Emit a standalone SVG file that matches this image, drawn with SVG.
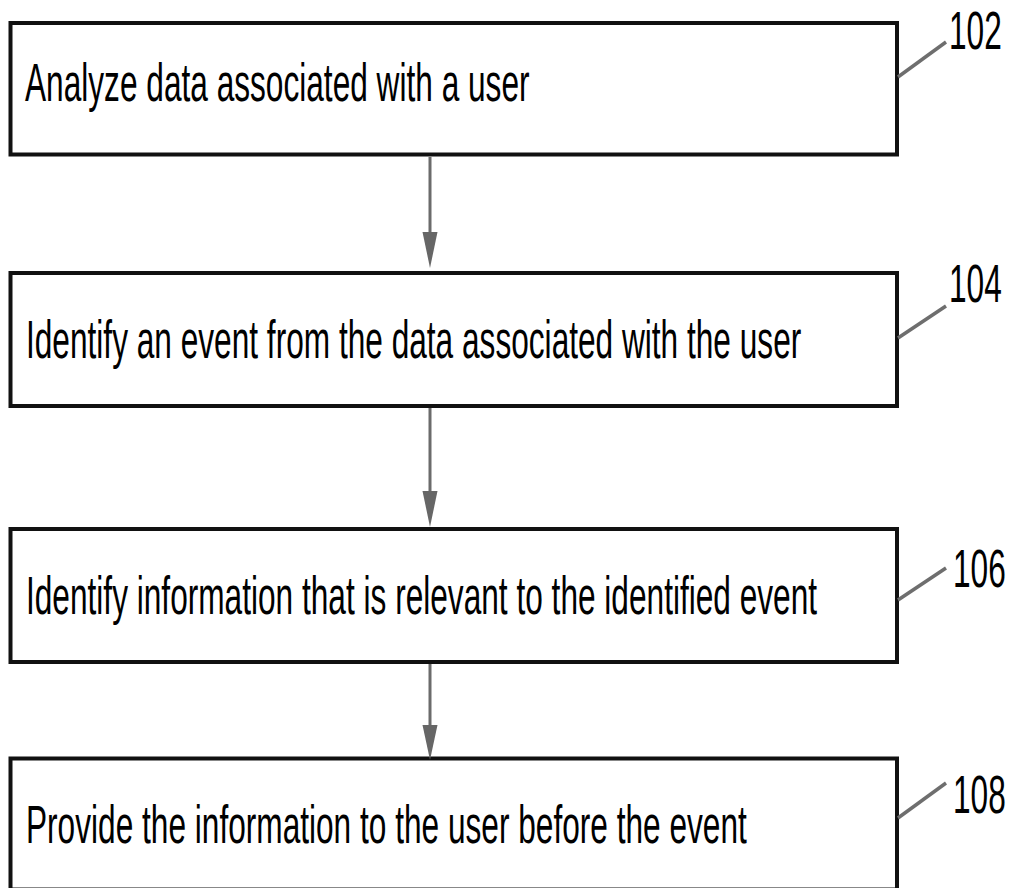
<svg xmlns="http://www.w3.org/2000/svg" width="1018" height="888" viewBox="0 0 1018 888">
<defs>
<style>
.box{fill:#fff;stroke:#111;stroke-width:4}
.t{font-family:"Liberation Sans",Arial,sans-serif;font-size:53px;fill:#000}
.lead{stroke:#6e6e6e;stroke-width:3.5;fill:none}
.conn{stroke:#6b6b6b;stroke-width:3;fill:none}
.head{fill:#666}
</style>
</defs>
<rect width="1018" height="888" fill="#fff"/>
<g id="n102">
<rect class="box" x="10.5" y="23" width="886.5" height="131.5"/>
<text class="t" transform="translate(25,101) scale(0.597,1)">Analyze data associated with a user</text>
<line class="lead" x1="898" y1="77" x2="946" y2="42"/>
<text class="t" transform="translate(949,49) scale(0.597,1)">102</text>
</g>
<g id="n104">
<rect class="box" x="10.5" y="273" width="886.5" height="133"/>
<text class="t" transform="translate(26,358) scale(0.597,1)">Identify an event from the data associated with the user</text>
<line class="lead" x1="898" y1="338" x2="946" y2="306"/>
<text class="t" transform="translate(949,302) scale(0.597,1)">104</text>
</g>
<g id="n106">
<rect class="box" x="10.5" y="529" width="886.5" height="133"/>
<text class="t" transform="translate(26,614) scale(0.597,1)">Identify information that is relevant to the identified event</text>
<line class="lead" x1="898" y1="600" x2="946" y2="568"/>
<text class="t" transform="translate(953,587) scale(0.597,1)">106</text>
</g>
<g id="n108">
<rect class="box" x="10.5" y="758.5" width="886.5" height="131"/>
<text class="t" transform="translate(26,843) scale(0.597,1)">Provide the information to the user before the event</text>
<line class="lead" x1="898" y1="818" x2="946" y2="783"/>
<text class="t" transform="translate(953,813) scale(0.597,1)">108</text>
</g>
<g id="connectors">
<line class="conn" x1="430" y1="157" x2="430" y2="235"/>
<polygon class="head" points="422.5,232 437.5,232 430,268"/>
<line class="conn" x1="430" y1="408" x2="430" y2="494"/>
<polygon class="head" points="422.5,491 437.5,491 430,527"/>
<line class="conn" x1="430" y1="664" x2="430" y2="728"/>
<polygon class="head" points="422.5,725 437.5,725 430,760"/>
</g>
</svg>
